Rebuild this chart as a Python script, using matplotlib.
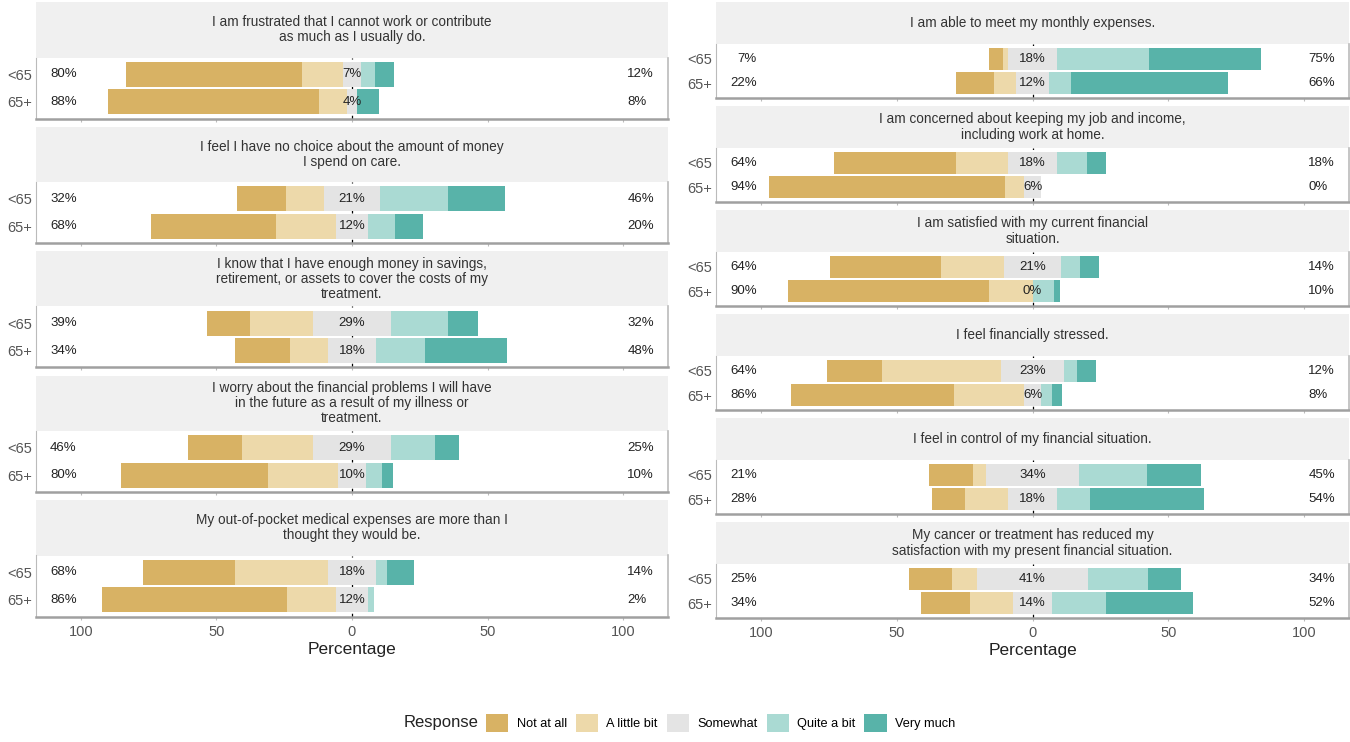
import matplotlib
matplotlib.use("Agg")
import matplotlib.pyplot as plt
from matplotlib.patches import Patch
import numpy as np

plt.rcParams['font.family'] = ['Liberation Sans Narrow', 'Liberation Sans', 'DejaVu Sans']

# questions, left column then right column
questions_left = [
    "I am frustrated that I cannot work or contribute\nas much as I usually do.",
    "I feel I have no choice about the amount of money\nI spend on care.",
    "I know that I have enough money in savings,\nretirement, or assets to cover the costs of my\ntreatment.",
    "I worry about the financial problems I will have\nin the future as a result of my illness or\ntreatment.",
    "My out-of-pocket medical expenses are more than I\nthought they would be.",
]
questions_right = [
    "I am able to meet my monthly expenses.",
    "I am concerned about keeping my job and income,\nincluding work at home.",
    "I am satisfied with my current financial\nsituation.",
    "I feel financially stressed.",
    "I feel in control of my financial situation.",
    "My cancer or treatment has reduced my\nsatisfaction with my present financial situation.",
]
groups = ["<65", "65+"]
responses = ["Not at all", "A little bit", "Somewhat", "Quite a bit", "Very much"]
colors = ["#D8B264", "#EDD9AA", "#E4E4E4", "#AADAD3", "#58B3A9"]

# percentages per question (left 5 then right 6), group <65
not_at_all_u65 = [65, 18, 16, 20, 34, 5, 45, 41, 20, 16, 16]
little_bit_u65 = [15, 14, 23, 26, 34, 2, 19, 23, 44, 5, 9]
somewhat_u65 = [7, 21, 29, 29, 18, 18, 18, 21, 23, 34, 41]
quite_bit_u65 = [5, 25, 21, 16, 4, 34, 11, 7, 5, 25, 22]
very_much_u65 = [7, 21, 11, 9, 10, 41, 7, 7, 7, 20, 12]
# group 65+
not_at_all_o65 = [78, 46, 20, 54, 68, 14, 87, 74, 60, 12, 18]
little_bit_o65 = [10, 22, 14, 26, 18, 8, 7, 16, 26, 16, 16]
somewhat_o65 = [4, 12, 18, 10, 12, 12, 6, 0, 6, 18, 14]
quite_bit_o65 = [0, 10, 18, 6, 2, 8, 0, 8, 4, 12, 20]
very_much_o65 = [8, 10, 30, 4, 0, 58, 0, 2, 4, 42, 32]

u65 = np.array([not_at_all_u65, little_bit_u65, somewhat_u65, quite_bit_u65, very_much_u65])
o65 = np.array([not_at_all_o65, little_bit_o65, somewhat_o65, quite_bit_o65, very_much_o65])

W, H = 1350, 742
fig = plt.figure(figsize=(W / 100, H / 100), dpi=100)


def px_rect(x0, y0, w, h):
    return [x0 / W, 1 - (y0 + h) / H, w / W, h / H]


def draw_panel(ax, vals, bottom_row):
    # vals: 5 x 2 (responses x groups)
    ypos = np.array([2, 1])
    mid = vals[2] / 2.0
    lefts = [-(mid + vals[1] + vals[0]), -(mid + vals[1]), -mid, mid, mid + vals[3]]
    ax.axvline(0, color="black", ls=(0, (3, 3)), lw=0.9, zorder=0)
    for k in range(5):
        ax.barh(ypos, vals[k], left=lefts[k], height=0.9, color=colors[k], zorder=2)
    low = vals[0] + vals[1]
    high = vals[3] + vals[4]
    for j in range(2):
        ax.text(-101.5, ypos[j], "%d%%" % low[j], ha="right", va="center", fontsize=9.5, color="#222222", zorder=3)
        ax.text(0, ypos[j], "%d%%" % vals[2][j], ha="center", va="center", fontsize=9.5, color="#222222", zorder=3)
        ax.text(101.5, ypos[j], "%d%%" % high[j], ha="left", va="center", fontsize=9.5, color="#222222", zorder=3)
    ax.set_xlim(-116.5, 116.5)
    ax.set_ylim(0.4, 2.6)
    ax.set_yticks(ypos)
    ax.set_yticklabels(groups, fontsize=10.5, color="#555555")
    ax.set_xticks([-100, -50, 0, 50, 100])
    if bottom_row:
        ax.set_xticklabels(["100", "50", "0", "50", "100"], fontsize=10.5, color="#555555")
        ax.set_xlabel("Percentage", fontsize=12.5, color="#222222", labelpad=2)
    else:
        ax.set_xticklabels([])
    ax.tick_params(axis="x", length=2, color="#BBBBBB", pad=4)
    ax.tick_params(axis="y", length=0, pad=3)
    ax.spines["top"].set_visible(False)
    ax.spines["left"].set_color("#BBBBBB")
    ax.spines["left"].set_linewidth(0.8)
    ax.spines["right"].set_color("#BBBBBB")
    ax.spines["right"].set_linewidth(1.2)
    ax.spines["bottom"].set_color("#A0A0A0")
    ax.spines["bottom"].set_linewidth(1.8)


def draw_column(titles, idx, x0, x1, top0, strip_h, plot_h, gap):
    n = len(titles)
    for i in range(n):
        y = top0 + i * (strip_h + plot_h + gap)
        sax = fig.add_axes(px_rect(x0, y, x1 - x0, strip_h))
        sax.set_facecolor("#F0F0F0")
        for s in sax.spines.values():
            s.set_visible(False)
        sax.set_xticks([])
        sax.set_yticks([])
        sax.text(0.5, 0.5, titles[i], ha="center", va="center", fontsize=9.8, color="#333333",
                 linespacing=1.1, transform=sax.transAxes)
        ax = fig.add_axes(px_rect(x0, y + strip_h, x1 - x0, plot_h))
        q = idx[i]
        vals = np.array([[u65[k][q], o65[k][q]] for k in range(5)])
        draw_panel(ax, vals, i == n - 1)


draw_column(questions_left, list(range(5)), 36, 668, 2, 55.5, 61, 8)
draw_column(questions_right, list(range(5, 11)), 716, 1349, 2, 42, 54, 8)

# legend
fig.text(404 / W, 1 - 723 / H, "Response", ha="left", va="center", fontsize=12, color="#222222")
handles = [Patch(facecolor=c, edgecolor="none", label=r) for c, r in zip(colors, responses)]
fig.legend(handles=handles, loc="center left", bbox_to_anchor=(486 / W, 1 - 723 / H), ncol=5,
           frameon=False, fontsize=9.2, handlelength=1.75, handleheight=1.75,
           handletextpad=0.65, columnspacing=0.7, borderaxespad=0, borderpad=0)

fig.savefig("out.png", dpi=100)
